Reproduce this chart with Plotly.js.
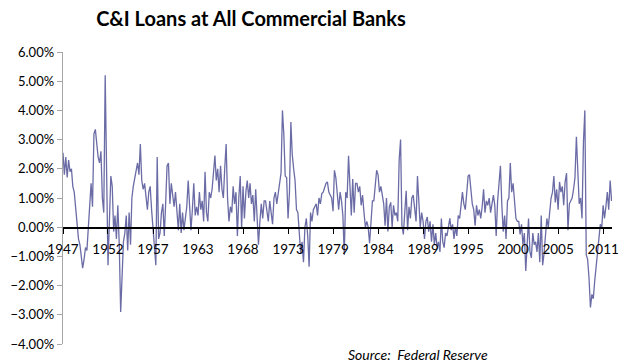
<!DOCTYPE html>
<html><head><meta charset="utf-8">
<script src="https://cdn.plot.ly/plotly-3.0.1.min.js"></script>
<style>html,body{margin:0;padding:0;background:#fff;} #chart{width:619px;height:364px;}</style>
</head><body><div id="chart"></div>
<script>
// Bi-monthly % change in C&I loans (Jan, Mar, May, Jul, Sep, Nov), starting Jan 1947
const startYear = 1947;
const growth1940s = [
  2.55, 1.8, 2.4, 1.7, 2.3, 1.9,
  2.0, 1.4, 1.2, 0.7, 0.2, -0.4,
  -0.6, -1.0, -1.4, -1.1, -0.7, -0.8
];
const growth1950s = [
  -0.1, 0.8, 1.5, 0.7, 3.2, 3.35,
  2.9, 2.4, 2.2, 2.6, 1.0, 0.5,
  5.2, 2.2, -1.3, 0.2, 1.75, 1.4,
  -0.15, 0.4, -0.4, 0.75, -0.6, -2.9,
  -1.6, -0.5, -0.2, 0.4, -0.8, 0.5,
  -0.6, 1.0, 1.4, 1.7, 2.0, 2.2,
  1.8, 2.85, 1.6, 1.3, 1.5, 0.9,
  0.6, 1.2, 1.4, 0.6, 0.0, -0.5,
  -1.3, 2.4, -0.4, -0.2, 0.5, 0.8,
  -0.3, 0.8, 2.1, 2.2, 0.8, 1.5
];
const growth1960s = [
  1.1, 0.7, 1.2, 0.6, -0.1, 0.8,
  -0.2, 0.5, -0.1, 0.3, 0.7, 1.6,
  0.8, -0.1, 0.6, 1.5, 0.4, 0.7,
  0.4, 1.2, 0.6, 0.9, 0.2, 1.9,
  0.5, 0.2, 1.2, 1.0, 1.3, 1.8,
  2.45, 1.6, 2.0, 1.2, 2.1, 1.3,
  1.0, 2.0, 2.85, 1.0, 0.2, 0.7,
  0.5, 1.4, 0.8, 1.2, -0.3, 1.0,
  1.75, -0.05, 1.4, 0.3, 1.2, 1.6,
  1.0, 1.5, 0.8, 1.1, 0.2, 1.3
];
const growth1970s = [
  0.5, -0.6, 0.2, 0.8, 0.3, 0.9,
  0.9, 0.6, 0.2, 0.9, 0.4, 0.1,
  1.0, 1.2, 0.8, 1.2, 1.5, 1.85,
  4.0, 3.2, 1.75, 1.7, 0.3, 1.2,
  3.6, 2.5, 2.0, 1.6, 0.6, 0.5,
  -0.2, -0.9, -0.5, -1.2, 0.0, 0.3,
  -0.3, -1.35, 0.5, 0.2, 0.6, 0.7,
  0.8, 0.4, 1.0, 0.8, 1.15, 1.2,
  1.4, 1.5, 1.55, 1.2, 1.1, 1.0,
  0.55, 1.95, 1.7, 1.0, 0.6, 1.2
];
const growth1980s = [
  0.9, 0.4, -0.95, 1.2, 1.0, 2.45,
  1.2, 0.4, 1.65, 0.5, 1.5, 1.5,
  1.2, 1.4, 0.75, 1.1, 0.5, 0.0,
  0.2, 0.0, -0.55, 0.3, 0.9, 0.9,
  1.4, 1.95, 1.8, 1.2, 1.4, 1.0,
  0.8, 0.05, 1.0, -0.15, 0.7, 0.85,
  0.0, 0.75, 0.4, 0.5, 0.2, 2.3,
  3.0, 0.05, -0.25, 0.5, 1.25, -0.1,
  0.7, 0.3, 1.0, 1.1, 0.6, 0.2,
  1.75, 0.75, 0.0, 0.5, 0.2, -0.4
];
const growth1990s = [
  0.2, 0.35, -0.15, 0.2, -0.5, 0.1,
  -0.6, -0.2, -0.7, -0.5, -0.85, 0.3,
  -0.5, -0.7, -0.2, -0.3, 0.0, 0.3,
  -0.1, 0.1, -0.4, 0.0, -0.3, 0.4,
  0.3, 0.85, 1.2, 0.8, 0.6, 1.15,
  1.75, 1.8, 1.3, 0.8, 0.6, 0.05,
  0.75, 0.4, 0.6, 0.3, 0.7, 1.3,
  0.5, 0.9, 0.75, 1.0, 0.5, 0.9,
  1.1, 0.75, -0.3, 0.9, 1.6, 2.1,
  0.75, -0.15, 0.4, -0.4, 0.9, 1.0
];
const growth2000s = [
  2.2, 1.2, 1.5, 0.85, 0.3, 0.2,
  0.2, -0.25, 0.1, -0.6, -0.2, -1.5,
  -0.4, 0.3, -0.85, -1.05, -0.2, -0.6,
  -0.5, -0.85, -0.2, -1.2, 0.4, -1.3,
  -0.9, -0.3, 0.3, 0.0, 0.65, 1.0,
  1.2, 1.75, 0.85, 1.3, 0.6, 1.55,
  1.2, 1.4, 0.75, 1.55, 1.85, -0.1,
  0.8, 0.9, 1.0, 1.3, 1.7, 3.1,
  1.75, 0.8, 1.0, 0.3, 2.9, 4.0,
  -0.95, -1.1, -1.75, -2.75, -2.3, -2.45
];
const growth2010s = [
  -1.85, -1.3, -0.9, -0.4, 0.1, -0.05,
  0.75, 0.3, 0.7, 1.2, 0.6, 1.6,
  0.9
];
const tickYears = ['1947','1952','1957','1963','1968','1973','1979','1984','1989','1995','2000','2005','2011'];

const growth = [].concat(growth1940s, growth1950s, growth1960s, growth1970s, growth1980s, growth1990s, growth2000s, growth2010s);
function monthDate(m) {
  const y = startYear + Math.floor(m / 12);
  const mo = (m % 12) + 1;
  return y + '-' + String(mo).padStart(2, '0') + '-01';
}
const dates = growth.map((v, i) => monthDate(i * 2));
const tickDates = tickYears.map((y, i) => monthDate(i * 64));

const trace = {
  type: 'scatter', mode: 'lines', x: dates, y: growth,
  line: {color: '#6b6ca6', width: 1.3}, hoverinfo: 'skip'
};

const layout = {
  width: 619, height: 364,
  margin: {l: 63, r: 7, t: 52, b: 20},
  paper_bgcolor: '#ffffff', plot_bgcolor: '#ffffff',
  font: {family: 'Lato, sans-serif', size: 13, color: '#000'},
  showlegend: false,
  title: {
    text: '<b>C&amp;I Loans at All Commercial Banks</b>',
    font: {family: 'Lato, sans-serif', size: 20, color: '#000'},
    xref: 'container', x: 251 / 619, xanchor: 'center',
    yref: 'container', y: 1 - 19 / 364, yanchor: 'middle'
  },
  xaxis: {
    type: 'date', range: ['1947-01-01', '2012-01-20'],
    anchor: 'free', position: 0.4,
    showline: true, linecolor: '#000', linewidth: 1.3,
    ticks: 'outside', ticklen: 5, tickcolor: '#000', tickwidth: 1,
    tickmode: 'array', tickvals: tickDates, ticktext: tickYears,
    ticklabelstandoff: 4,
    showgrid: false, zeroline: false,
    tickfont: {family: 'Lato, sans-serif', size: 13.5, color: '#000'}
  },
  yaxis: {
    range: [-4, 6], tick0: 0, dtick: 1,
    tickformat: '.2f', ticksuffix: '%',
    showline: true, linecolor: '#a6a6a6', linewidth: 1.3,
    ticks: 'outside', ticklen: 5, tickcolor: '#a6a6a6',
    showgrid: false, zeroline: false,
    tickfont: {family: 'Lato, sans-serif', size: 13, color: '#000'}
  },
  annotations: [{
    text: '<i>Source:&nbsp; Federal Reserve</i>',
    xref: 'paper', yref: 'paper',
    x: (346 - 63) / 549, xanchor: 'left',
    y: (344 - 354.5) / 292, yanchor: 'middle',
    showarrow: false,
    font: {family: 'Lato, sans-serif', size: 14, color: '#000'}
  }]
};

Plotly.newPlot('chart', [trace], layout, {displayModeBar: false, staticPlot: true});
</script>
</body></html>
